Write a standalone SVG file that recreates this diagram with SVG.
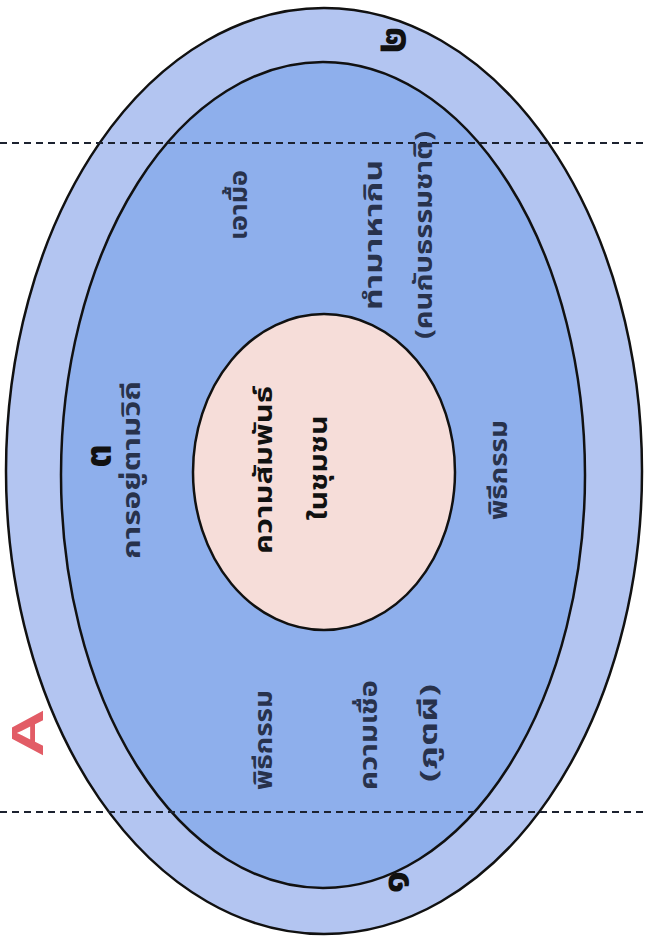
<svg xmlns="http://www.w3.org/2000/svg" width="645" height="940" viewBox="0 0 645 940">
<style>
.ring{stroke:#111;stroke-width:2.5}
.t{font-family:"Noto Sans Thai","Noto Sans","DejaVu Sans",sans-serif;font-weight:bold;font-size:24px;fill:#28324c;text-anchor:middle;dominant-baseline:central}
.c{fill:#111}
.n{font-size:42px;fill:#111}
.dash{stroke:#1c2230;stroke-width:2;stroke-dasharray:7 5;fill:none}
</style>
<rect width="645" height="940" fill="#ffffff"/>
<g id="outer"><ellipse class="ring" cx="324" cy="471" rx="318" ry="463" fill="#b3c5f1"/></g>
<g id="middle"><ellipse class="ring" cx="323" cy="475" rx="262" ry="413" fill="#8eafec"/></g>
<g id="center"><ellipse class="ring" cx="324" cy="472" rx="131" ry="158" fill="#f6ddd9"/>
<text class="t c" x="265" y="470" transform="rotate(-90 265 470)" textLength="168" lengthAdjust="spacingAndGlyphs">ความสัมพันธ์</text>
<text class="t c" x="320" y="468" transform="rotate(-90 320 468)" textLength="105" lengthAdjust="spacingAndGlyphs">ในชุมชน</text>
</g>
<g id="connectors">
<line class="dash" x1="0" y1="143" x2="645" y2="143"/>
<line class="dash" x1="0" y1="812" x2="645" y2="812"/>
</g>
<g id="labels">
<text class="t" x="133" y="470" transform="rotate(-90 133 470)" textLength="178" lengthAdjust="spacingAndGlyphs">การอยู่ตามวิถี</text>
<text class="t" x="240" y="205" transform="rotate(-90 240 205)" textLength="70" lengthAdjust="spacingAndGlyphs">เอามื้อ</text>
<text class="t" x="375" y="235" transform="rotate(-90 375 235)" textLength="150" lengthAdjust="spacingAndGlyphs">ทำมาหากิน</text>
<text class="t" x="425" y="235" transform="rotate(-90 425 235)" textLength="208" lengthAdjust="spacingAndGlyphs">(คนกับธรรมชาติ)</text>
<text class="t" x="500" y="470" transform="rotate(-90 500 470)" textLength="100" lengthAdjust="spacingAndGlyphs">พิธีกรรม</text>
<text class="t" x="265" y="740" transform="rotate(-90 265 740)" textLength="100" lengthAdjust="spacingAndGlyphs">พิธีกรรม</text>
<text class="t" x="370" y="735" transform="rotate(-90 370 735)" textLength="110" lengthAdjust="spacingAndGlyphs">ความเชื่อ</text>
<text class="t" x="430" y="733" transform="rotate(-90 430 733)" textLength="98" lengthAdjust="spacingAndGlyphs">(ภูตผี)</text>
</g>
<g id="numbers">
<text class="t n" x="97" y="456" transform="rotate(-90 97 456)">๓</text>
<text class="t n" x="392" y="40" transform="rotate(-90 392 40)">๒</text>
<text class="t n" x="395" y="882" transform="rotate(-90 395 882)">๑</text>
</g>
<g id="letterA">
<text x="27" y="733" transform="rotate(-90 27 733)" font-family="Liberation Sans, Arial, sans-serif" font-weight="bold" font-size="44" fill="#e25c66" text-anchor="middle" dominant-baseline="central" textLength="48" lengthAdjust="spacingAndGlyphs">A</text>
</g>
</svg>
